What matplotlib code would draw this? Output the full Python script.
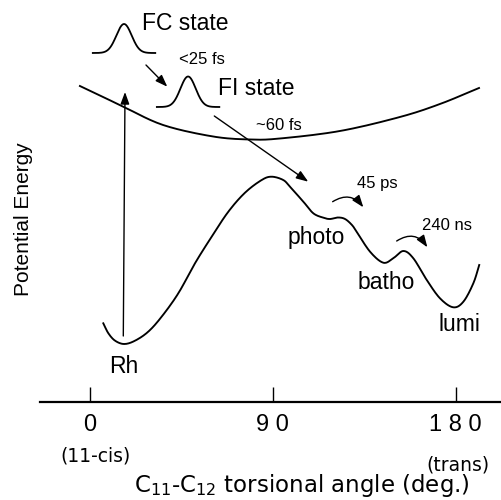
import numpy as np
import matplotlib
matplotlib.use("Agg")
import matplotlib.pyplot as plt

# ---------------- data (angle in degrees, energy in arbitrary units) ----------------
ground_angle = [6.7, 9.2, 12.5, 17.0, 22.3, 28.8, 35.4, 43.6, 51.8, 60.0, 68.2, 76.4,
                84.6, 89.5, 95.2, 98.5, 105.1, 110.0, 114.9, 118.2, 122.1, 125.6, 129.0,
                131.3, 137.9, 144.4, 149.3, 154.3, 159.2, 165.8, 172.3, 178.8, 183.8,
                188.7, 191.6]
ground_energy = [176.7, 166.7, 159.3, 156.0, 159.3, 168.3, 183.3, 206.7, 236.7, 263.3,
                 288.3, 307.3, 320.0, 323.3, 320.0, 313.3, 298.3, 286.7, 282.3, 281.0,
                 282.5, 281.0, 275.0, 268.3, 248.3, 237.3, 241.7, 249.0, 241.7, 220.0,
                 201.7, 192.7, 198.3, 216.7, 235.0]

excited_angle = [-4.8, 5.1, 16.4, 36.1, 60.7, 78.9, 93.6, 123.1, 152.6, 172.3, 191.5]
excited_energy = [414.0, 404.5, 393.5, 375.0, 363.5, 360.5, 361.5, 369.0, 383.0, 396.0, 412.0]

# wave packets: (centre angle, baseline energy, height)
fc_packet = (16.9, 447.0, 29.0)
fi_packet = (48.4, 393.0, 30.5)
packet_sigma = 3.75
packet_halfwidth = 15.8

tick_values = [0, 90, 180]
tick_labels = ["0", "90", "180"]

state_labels = ["FC state", "FI state", "photo", "batho", "lumi", "Rh"]
time_labels = ["<25 fs", "~60 fs", "45 ps", "240 ns"]

# ---------------- helpers ----------------
def smooth_line(x, y, n=14):
    P = np.column_stack([x, y]).astype(float)
    P = np.vstack([2 * P[0] - P[1], P, 2 * P[-1] - P[-2]])
    out = []
    t = np.linspace(0, 1, n, endpoint=False)[:, None]
    for i in range(1, len(P) - 2):
        p0, p1, p2, p3 = P[i - 1], P[i], P[i + 1], P[i + 2]
        out.append(0.5 * ((2 * p1) + (-p0 + p2) * t
                          + (2 * p0 - 5 * p1 + 4 * p2 - p3) * t ** 2
                          + (-p0 + 3 * p1 - 3 * p2 + p3) * t ** 3))
    out.append(P[-2][None])
    pts = np.vstack(out)
    return pts[:, 0], pts[:, 1]


def packet(ax, c, base, h):
    xx = np.linspace(c - packet_halfwidth, c + packet_halfwidth, 200)
    yy = base + h * np.exp(-0.5 * ((xx - c) / packet_sigma) ** 2)
    ax.plot(xx, yy, color="black", lw=1.3, solid_capstyle="butt")


# ---------------- figure ----------------
fig = plt.figure(figsize=(5.02, 5.0), dpi=100)
ax = fig.add_axes([40 / 502, 98 / 500, 462 / 502, 402 / 500])
ax.set_xlim(-24.43, 202.8)
ax.set_ylim(98, 500)

for s in ("left", "top", "right"):
    ax.spines[s].set_visible(False)
ax.spines["bottom"].set_linewidth(1.6)
ax.set_yticks([])

SANS = "Liberation Sans"
WIDE = "DejaVu Sans"

ax.set_xticks(tick_values)
ax.set_xticklabels([" ".join(l) for l in tick_labels], fontsize=17, family=SANS)
ax.tick_params(axis="x", direction="in", length=10.5, width=1.0, pad=8.5)

# curves
gx, gy = smooth_line(ground_angle, ground_energy)
ax.plot(gx, gy, color="black", lw=1.35)
ex, ey = smooth_line(excited_angle, excited_energy)
ax.plot(ex, ey, color="black", lw=1.35)

packet(ax, *fc_packet)
packet(ax, *fi_packet)

# arrows
straight = dict(arrowstyle="-|>,head_length=0.6,head_width=0.22", color="black",
                lw=1.0, shrinkA=0, shrinkB=0, mutation_scale=12)
ax.annotate("", xy=(17.38, 408), xytext=(16.54, 164), arrowprops=straight)
ax.annotate("", xy=(38.18, 413.3), xytext=(27.7, 435), arrowprops=straight)
ax.annotate("", xy=(107.5, 318.3), xytext=(61.3, 384), arrowprops=straight)
curved1 = dict(straight, connectionstyle="arc3,rad=-0.45")
ax.annotate("", xy=(134.6, 292.7), xytext=(119.5, 298.3), arrowprops=curved1)
curved2 = dict(straight, connectionstyle="arc3,rad=-0.48")
ax.annotate("", xy=(166.1, 252.7), xytext=(151.0, 259.0), arrowprops=curved2)

# big labels
big = dict(fontsize=16.5, family=SANS, ha="left", va="baseline")
ax.text(25.7, 470.5, state_labels[0], **big)
ax.text(63.3, 405.0, state_labels[1], **big)
ax.text(97.2, 256.0, state_labels[2], **big)
ax.text(131.6, 210.7, state_labels[3], **big)
ax.text(171.5, 169.3, state_labels[4], **big)
ax.text(9.65, 127.3, state_labels[5], **big)

small = dict(fontsize=12, family=SANS, ha="left", va="baseline")
ax.text(44.1, 436.0, time_labels[0], **small)
ax.text(81.7, 370.0, time_labels[1], **small)
ax.text(131.6, 311.7, time_labels[2], **small)
ax.text(163.6, 270.0, time_labels[3], **small)

# axis annotations
ax.text(3.1, 44, "(11-cis)", fontsize=13.5, family=WIDE, ha="center", va="center")
ax.text(181.2, 35, "(trans)", fontsize=13.5, family=WIDE, ha="center", va="center")
ax.text(104.2, 8, "C$_{11}$-C$_{12}$ torsional angle (deg.)", fontsize=16.5,
        family=WIDE, ha="center", va="baseline")
ax.text(-32.3, 281, "Potential Energy", fontsize=15, family=SANS, rotation=90,
        ha="center", va="center")

fig.savefig("out.png", dpi=100)
